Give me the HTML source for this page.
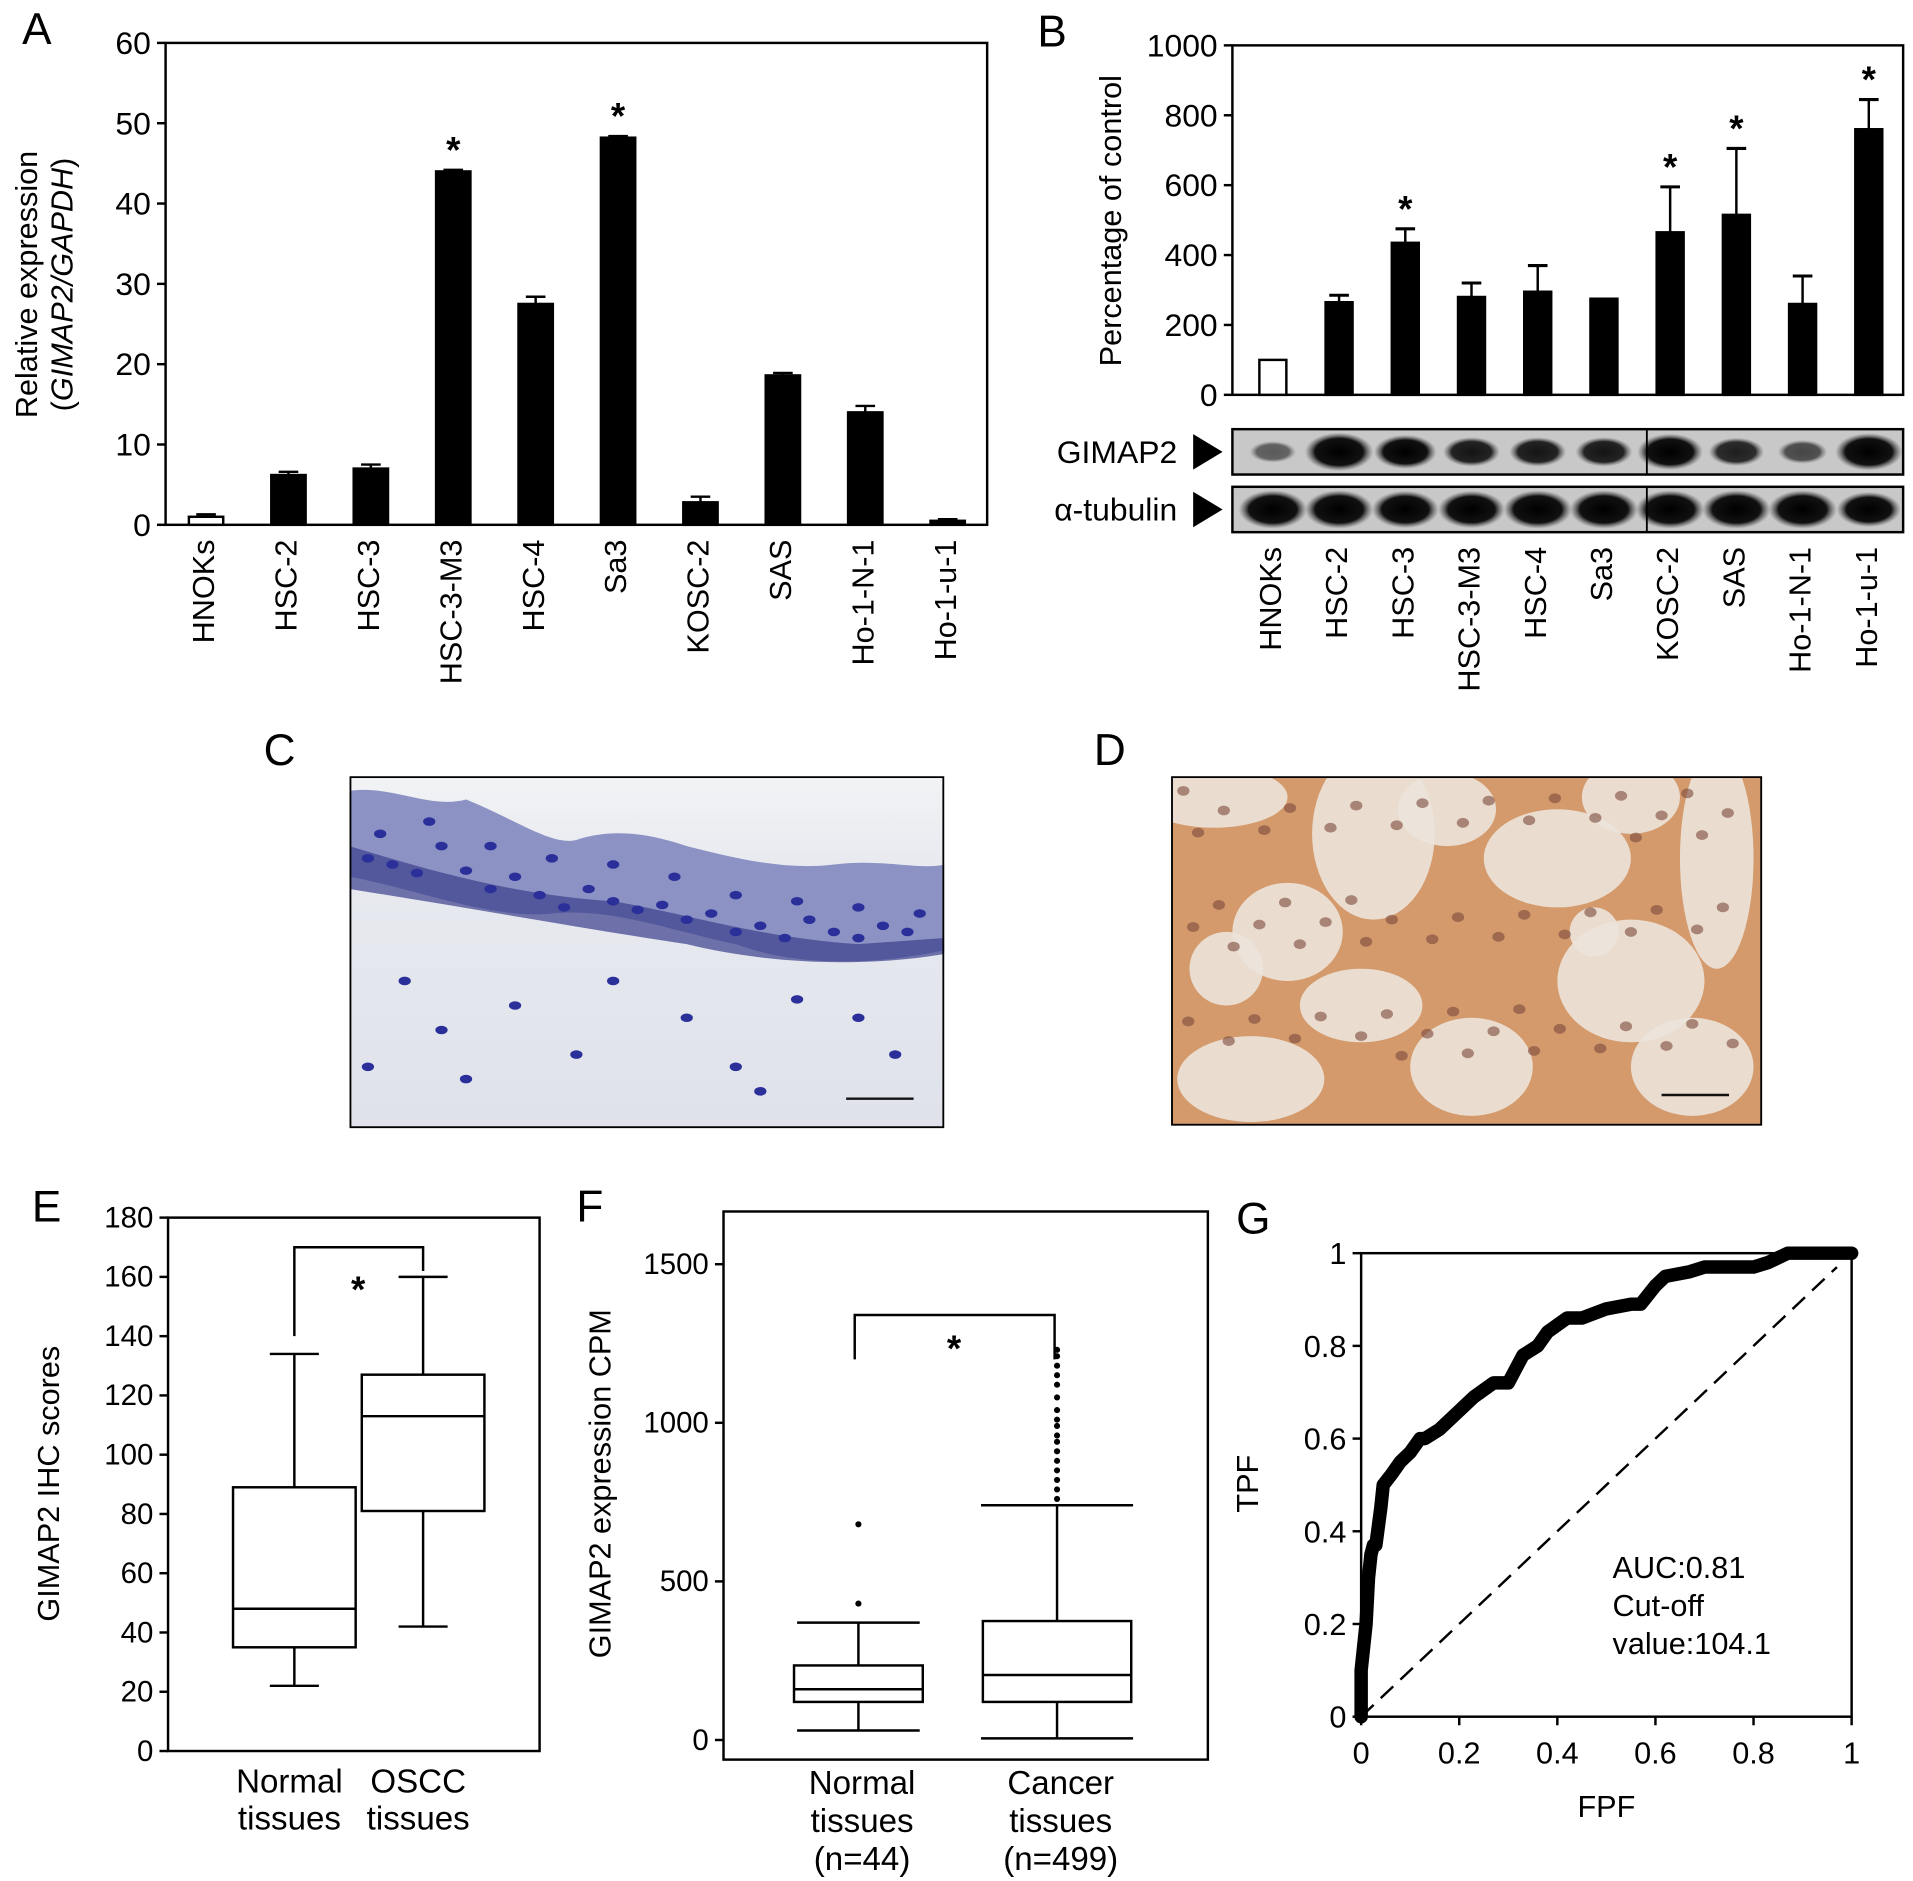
<!DOCTYPE html>
<html><head><meta charset="utf-8"><style>
html,body{margin:0;padding:0;background:#fff;}
svg{display:block;font-family:"Liberation Sans",Arial,sans-serif;}
</style></head><body>
<svg id="fig" width="1913" height="1881" viewBox="0 0 1560 1534" xmlns="http://www.w3.org/2000/svg">
<defs>
<radialGradient id="blob" cx="50%" cy="50%" r="50%"><stop offset="0" stop-color="#000"/><stop offset="0.7" stop-color="#111"/><stop offset="1" stop-color="#555" stop-opacity="0"/></radialGradient>
<linearGradient id="cbg" x1="0" y1="0" x2="0" y2="1"><stop offset="0" stop-color="#f2f3f5"/><stop offset="0.25" stop-color="#e8eaf0"/><stop offset="1" stop-color="#dfe2ea"/></linearGradient>
<clipPath id="clipC"><rect x="285" y="633" width="485" height="287"/></clipPath>
<clipPath id="clipD"><rect x="955" y="633" width="482" height="285"/></clipPath>
</defs>
<g id="root"></g>
</svg>
<script>
const NS="http://www.w3.org/2000/svg";
const root=document.getElementById('root');
function el(tag,attrs,parent,text){const e=document.createElementNS(NS,tag);for(const k in attrs)e.setAttribute(k,attrs[k]);if(text!==undefined)e.textContent=text;(parent||root).appendChild(e);return e;}

// ---------- DATA ----------
const aCats=["HNOKs","HSC-2","HSC-3","HSC-3-M3","HSC-4","Sa3","KOSC-2","SAS","Ho-1-N-1","Ho-1-u-1"];
const aValues=[1,6.2,7,44,27.5,48.2,2.8,18.6,14,0.5];
const aErrors=[0.3,0.4,0.5,0.2,0.9,0.2,0.7,0.3,0.8,0.2];
const aStars=[3,5];
const aTicks=[0,10,20,30,40,50,60];

const bCats=["HNOKs","HSC-2","HSC-3","HSC-3-M3","HSC-4","Sa3","KOSC-2","SAS","Ho-1-N-1","Ho-1-u-1"];
const bValues=[100,265,435,280,295,275,465,515,260,760];
const bErrors=[0,20,40,40,75,0,130,190,80,85];
const bStars=[2,6,7,9];
const bTicks=[0,200,400,600,800,1000];
const gimapIntensity=[0.25,1,0.8,0.6,0.6,0.6,0.9,0.55,0.35,0.95];
const tubulinIntensity=[1,1,0.95,0.95,1,1,1,1,1,0.85];

const eCats=["Normal tissues","OSCC tissues"];
const eLow=[22,42],eQ1=[35,81],eMed=[48,113],eQ3=[89,127],eHigh=[134,160];
const eTicks=[0,20,40,60,80,100,120,140,160,180];

const fCats=["Normal tissues (n=44)","Cancer tissues (n=499)"];
const fLow=[30,5],fQ1=[120,120],fMed=[160,205],fQ3=[235,375],fHigh=[370,740];
const fOutNormal=[430,680];
const fOutCancer=[760,790,820,850,880,910,940,960,990,1010,1040,1080,1120,1150,1180,1210,1230];
const fTicks=[0,500,1000,1500];

const rocFPF=[0,0,0.005,0.01,0.015,0.02,0.025,0.03,0.04,0.045,0.06,0.08,0.1,0.12,0.13,0.16,0.2,0.23,0.27,0.3,0.32,0.33,0.36,0.38,0.42,0.45,0.5,0.55,0.57,0.6,0.62,0.67,0.7,0.75,0.8,0.83,0.87,0.9,0.95,1];
const rocTPF=[0,0.1,0.15,0.2,0.3,0.35,0.37,0.37,0.45,0.5,0.52,0.55,0.57,0.6,0.6,0.62,0.66,0.69,0.72,0.72,0.76,0.78,0.8,0.83,0.86,0.86,0.88,0.89,0.89,0.93,0.95,0.96,0.97,0.97,0.97,0.98,1,1,1,1];
const gTicks=[0,0.2,0.4,0.6,0.8,1];

// ---------- helpers ----------
function letter(t,x,y){const e=el('text',{x:x,y:y,'font-size':36,'text-anchor':'middle'},root,t);}
function rotLabel(t,x,y,size,g,name,anchor){const e=el('text',{transform:`translate(${x},${y}) rotate(-90)`,'font-size':size,'text-anchor':anchor||'end','dominant-baseline':'middle'},g,t);return e;}

// ---------- PANEL A ----------
letter('A',30,36);
(function(){
 const g=el('g',{});
 const L=135,R=805,T=35,B=428,max=60;
 const y=v=>B-(v/max)*(B-T);
 const x=i=>168+i*67.2;
 el('rect',{x:L,y:T,width:R-L,height:B-T,fill:'none',stroke:'#000','stroke-width':2},g);
 aTicks.forEach(t=>{el('line',{x1:L-7,x2:L,y1:y(t),y2:y(t),stroke:'#000','stroke-width':2},g);const tx=el('text',{x:L-12,y:y(t)+9,'font-size':26,'text-anchor':'end'},g,t);});
 aValues.forEach((v,i)=>{
  const cx=x(i),w=28;
  if(aErrors[i]>0){el('line',{x1:cx,x2:cx,y1:y(v),y2:y(v+aErrors[i]),stroke:'#000','stroke-width':2},g);el('line',{x1:cx-8,x2:cx+8,y1:y(v+aErrors[i]),y2:y(v+aErrors[i]),stroke:'#000','stroke-width':2},g);}
  const b=el('rect',{x:cx-w/2,y:y(v),width:w,height:B-y(v),fill:i===0?'#fff':'#000',stroke:'#000','stroke-width':2},g);
  
  rotLabel(aCats[i],cx,440,25,g,'x-tick-label');
 });
 aStars.forEach(i=>{const s=el('text',{x:x(i),y:y(aValues[i]+aErrors[i])-6,'font-size':30,'text-anchor':'middle','font-weight':'bold'},g,'*');});
 const t=el('text',{transform:'translate(30,232) rotate(-90)','font-size':25,'text-anchor':'middle'},g,'Relative expression');
 const t2=el('text',{transform:'translate(59,232) rotate(-90)','font-size':25,'text-anchor':'middle'},g);t2.innerHTML='(<tspan font-style="italic">GIMAP2/GAPDH</tspan>)';
})();

// ---------- PANEL B ----------
letter('B',858,38);
(function(){
 const g=el('g',{});
 const L=1005,R=1552,T=37,B=322,max=1000;
 const y=v=>B-(v/max)*(B-T);
 const x=i=>1038+i*54.0;
 el('rect',{x:L,y:T,width:R-L,height:B-T,fill:'none',stroke:'#000','stroke-width':2},g);
 bTicks.forEach(t=>{el('line',{x1:L-7,x2:L,y1:y(t),y2:y(t),stroke:'#000','stroke-width':2},g);const tx=el('text',{x:L-12,y:y(t)+9,'font-size':26,'text-anchor':'end'},g,t);});
 bValues.forEach((v,i)=>{
  const cx=x(i),w=22;
  if(bErrors[i]>0){el('line',{x1:cx,x2:cx,y1:y(v),y2:y(v+bErrors[i]),stroke:'#000','stroke-width':2},g);el('line',{x1:cx-8,x2:cx+8,y1:y(v+bErrors[i]),y2:y(v+bErrors[i]),stroke:'#000','stroke-width':2.5},g);}
  const b=el('rect',{x:cx-w/2,y:y(v),width:w,height:B-y(v),fill:i===0?'#fff':'#000',stroke:'#000','stroke-width':2},g);
  
  rotLabel(bCats[i],cx,446,25,g,'x-tick-label');
 });
 bStars.forEach(i=>{const s=el('text',{x:x(i),y:y(bValues[i]+bErrors[i])-6,'font-size':30,'text-anchor':'middle','font-weight':'bold'},g,'*');});
 const t=el('text',{transform:'translate(914,180) rotate(-90)','font-size':25,'text-anchor':'middle'},g,'Percentage of control');
 const strips=[[350,387,gimapIntensity,'GIMAP2','gimap2-blot'],[397,434,tubulinIntensity,'α-tubulin','tubulin-blot']];
 strips.forEach(([t0,t1,ints,lab,name])=>{
  const sg=el('g',{},g);
  el('rect',{x:L,y:t0,width:R-L,height:t1-t0,fill:'#c8c8c8',stroke:'#000','stroke-width':2},sg);
  ints.forEach((a,i)=>{const h=(t1-t0)*(0.35+0.5*a);el('ellipse',{cx:x(i),cy:(t0+t1)/2,rx:16+12*a,ry:h/2,fill:'url(#blob)',opacity:Math.min(1,0.3+a)},sg);});
  el('line',{x1:1343,x2:1343,y1:t0,y2:t1,stroke:'#000','stroke-width':1.5},sg);
  const tx=el('text',{x:960,y:(t0+t1)/2+9,'font-size':26,'text-anchor':'end'},sg,lab);
  el('polygon',{points:`973,${t0+4} 997,${(t0+t1)/2} 973,${t1-4}`,fill:'#000'},sg);
 });
})();

// ---------- PANEL C & D (micrographs) ----------
letter('C',228,624);letter('D',905,624);
(function(){
 const g=el('g',{'clip-path':'url(#clipC)'});
 el('rect',{x:285,y:633,width:485,height:287,fill:'url(#cbg)'},g);
 el('path',{d:'M285,645 C320,640 350,660 380,652 C420,668 450,690 470,685 C500,675 530,680 560,690 C600,700 640,710 680,705 C720,700 750,710 770,705 L770,775 C700,790 640,785 600,770 C550,760 500,740 450,745 C400,750 340,725 285,715 Z',fill:'#8c92c4'},g);
 el('path',{d:'M285,690 C350,710 420,730 500,735 C560,745 620,765 700,770 L770,765 L770,778 C700,790 620,785 560,770 C480,758 380,740 285,725Z',fill:'#3b3f8c',opacity:0.7},g);
 const pts=[[300,700],[320,705],[340,712],[360,690],[380,710],[400,725],[420,715],[440,730],[460,740],[480,725],[500,735],[520,742],[540,738],[560,750],[580,745],[600,760],[620,755],[640,765],[660,750],[680,760],[700,765],[720,755],[740,760],[310,680],[350,670],[400,690],[450,700],[500,705],[550,715],[600,730],[650,735],[700,740],[750,745],[330,800],[360,840],[420,820],[500,800],[560,830],[600,870],[650,815],[700,830],[730,860],[380,880],[470,860],[300,870],[620,890]];
 pts.forEach(p=>el('ellipse',{cx:p[0],cy:p[1],rx:5,ry:3.5,fill:'#2a2f9a'},g));
 el('line',{x1:690,x2:745,y1:896,y2:896,stroke:'#111','stroke-width':2},g);
 el('rect',{x:285,y:633,width:485,height:287,fill:'none',stroke:'#000','stroke-width':3},g);
 const g2=el('g',{'clip-path':'url(#clipD)'});
 el('rect',{x:955,y:633,width:482,height:285,fill:'#d49a6c'},g2);
 const wh=[[990,650,60,25],[1120,680,50,70],[1050,760,45,40],[1180,660,40,30],[1270,700,60,40],[1330,650,40,30],[1400,700,30,90],[1330,800,60,50],[1380,870,50,40],[1020,880,60,35],[1200,870,50,40],[1110,820,50,30],[1300,760,20,20],[1000,790,30,30]];
 wh.forEach(w=>el('ellipse',{cx:w[0],cy:w[1],rx:w[2],ry:w[3],fill:'#ece4dc',opacity:0.9},g2));
 for(let i=0;i<60;i++){const cx=965+((i*137)%465),cy=645+((i*89)%265);el('ellipse',{cx:cx,cy:cy,rx:5,ry:4,fill:'#7a4a3a',opacity:0.6},g2);}
 el('line',{x1:1355,x2:1410,y1:893,y2:893,stroke:'#111','stroke-width':2},g2);
 el('rect',{x:955,y:633,width:482,height:285,fill:'none',stroke:'#000','stroke-width':3},g2);
})();

function boxplot(g,cx,w,cap,y,lo,q1,md,q3,hi,name){
 const bg=el('g',{},g);
 el('line',{x1:cx,x2:cx,y1:y(lo),y2:y(q1),stroke:'#000','stroke-width':2},bg);
 el('line',{x1:cx,x2:cx,y1:y(q3),y2:y(hi),stroke:'#000','stroke-width':2},bg);
 el('line',{x1:cx-cap,x2:cx+cap,y1:y(lo),y2:y(lo),stroke:'#000','stroke-width':2},bg);
 el('line',{x1:cx-cap,x2:cx+cap,y1:y(hi),y2:y(hi),stroke:'#000','stroke-width':2},bg);
 el('rect',{x:cx-w/2,y:y(q3),width:w,height:y(q1)-y(q3),fill:'none',stroke:'#000','stroke-width':2},bg);
 el('line',{x1:cx-w/2,x2:cx+w/2,y1:y(md),y2:y(md),stroke:'#000','stroke-width':2},bg);
}

// ---------- PANEL E ----------
letter('E',38,996);
(function(){
 const g=el('g',{});
 const L=137,R=440,T=993,B=1428,max=180;
 const y=v=>B-(v/max)*(B-T);
 const cxs=[240,345];
 el('rect',{x:L,y:T,width:R-L,height:B-T,fill:'none',stroke:'#000','stroke-width':2},g);
 eTicks.forEach(t=>{el('line',{x1:L-7,x2:L,y1:y(t),y2:y(t),stroke:'#000','stroke-width':2},g);const tx=el('text',{x:L-12,y:y(t)+8,'font-size':24,'text-anchor':'end'},g,t);});
 eCats.forEach((c,i)=>{boxplot(g,cxs[i],100,20,y,eLow[i],eQ1[i],eMed[i],eQ3[i],eHigh[i],'box-'+i);
  const w=c.split(' ');w.forEach((s,j)=>{const tx=el('text',{x:cxs[i]-4,y:1462+j*30,'font-size':27,'text-anchor':'middle'},g,s);});});
 const br=el('path',{d:`M${cxs[0]},${y(eHigh[0]+6)} V${y(170)} H${cxs[1]} V${y(eHigh[1]+2)}`,fill:'none',stroke:'#000','stroke-width':2},g);
 const s=el('text',{x:292,y:1062,'font-size':30,'text-anchor':'middle','font-weight':'bold'},g,'*');
 const t=el('text',{transform:'translate(48,1210) rotate(-90)','font-size':25,'text-anchor':'middle'},g,'GIMAP2 IHC scores');
})();

// ---------- PANEL F ----------
letter('F',481,996);
(function(){
 const g=el('g',{});
 const L=590,R=985,T=988,B=1435,y0=1419,k=(1419-1031)/1500;
 const y=v=>y0-v*k;
 const cxs=[700,862];
 el('rect',{x:L,y:T,width:R-L,height:B-T,fill:'none',stroke:'#000','stroke-width':2},g);
 fTicks.forEach(t=>{el('line',{x1:L-7,x2:L,y1:y(t),y2:y(t),stroke:'#000','stroke-width':2},g);const tx=el('text',{x:L-12,y:y(t)+8,'font-size':24,'text-anchor':'end'},g,t);});
 const ws=[105,121],caps=[50,62];
 fCats.forEach((c,i)=>{boxplot(g,cxs[i],ws[i],caps[i],y,fLow[i],fQ1[i],fMed[i],fQ3[i],fHigh[i],'box-'+i);
  const parts=c.match(/(\S+) (\S+) (\(.*\))/).slice(1);parts.forEach((s,j)=>{const tx=el('text',{x:cxs[i]+3,y:1463+j*31,'font-size':27,'text-anchor':'middle'},g,s);});});
 fOutNormal.forEach(v=>{const d=el('circle',{cx:cxs[0],cy:y(v),r:2.5,fill:'#000'},g);});
 fOutCancer.forEach(v=>{const d=el('circle',{cx:cxs[1],cy:y(v),r:2.5,fill:'#000'},g);});
 const br=el('path',{d:`M${cxs[0]-3},${y(1200)} V${y(1340)} H${cxs[1]-2} V${y(1200)}`,fill:'none',stroke:'#000','stroke-width':2},g);
 const s=el('text',{x:778,y:1110,'font-size':30,'text-anchor':'middle','font-weight':'bold'},g,'*');
 const t=el('text',{transform:'translate(498,1210) rotate(-90)','font-size':25,'text-anchor':'middle'},g,'GIMAP2 expression CPM');
})();

// ---------- PANEL G ----------
letter('G',1022,1006);
(function(){
 const g=el('g',{});
 const L=1110,R=1510,T=1022,B=1400;
 const x=v=>L+v*(R-L),y=v=>B-v*(B-T);
 el('rect',{x:L,y:T,width:R-L,height:B-T,fill:'none',stroke:'#000','stroke-width':2},g);
 gTicks.forEach(t=>{
  el('line',{x1:L-7,x2:L,y1:y(t),y2:y(t),stroke:'#000','stroke-width':2},g);
  const a=el('text',{x:L-12,y:y(t)+9,'font-size':25,'text-anchor':'end'},g,String(t));
  el('line',{x1:x(t),x2:x(t),y1:B,y2:B+7,stroke:'#000','stroke-width':2},g);
  const b=el('text',{x:x(t),y:B+38,'font-size':25,'text-anchor':'middle'},g,String(t));
 });
 const dg=el('line',{x1:x(0),y1:y(0),x2:x(0.97),y2:y(0.97),stroke:'#000','stroke-width':2,'stroke-dasharray':'14,8'},g);
 const d=rocFPF.map((f,i)=>(i?'L':'M')+x(f).toFixed(1)+','+y(rocTPF[i]).toFixed(1)).join(' ');
 const c=el('path',{d:d,fill:'none',stroke:'#000','stroke-width':11,'stroke-linejoin':'round','stroke-linecap':'round'},g);
 ['AUC:0.81','Cut-off','value:104.1'].forEach((s,j)=>{const t=el('text',{x:1315,y:1287+j*31,'font-size':25},g,s);});
 const ty=el('text',{transform:'translate(1026,1210) rotate(-90)','font-size':25,'text-anchor':'middle'},g,'TPF');
 const tx=el('text',{x:1310,y:1482,'font-size':25,'text-anchor':'middle'},g,'FPF');
})();
</script>
</body></html>
